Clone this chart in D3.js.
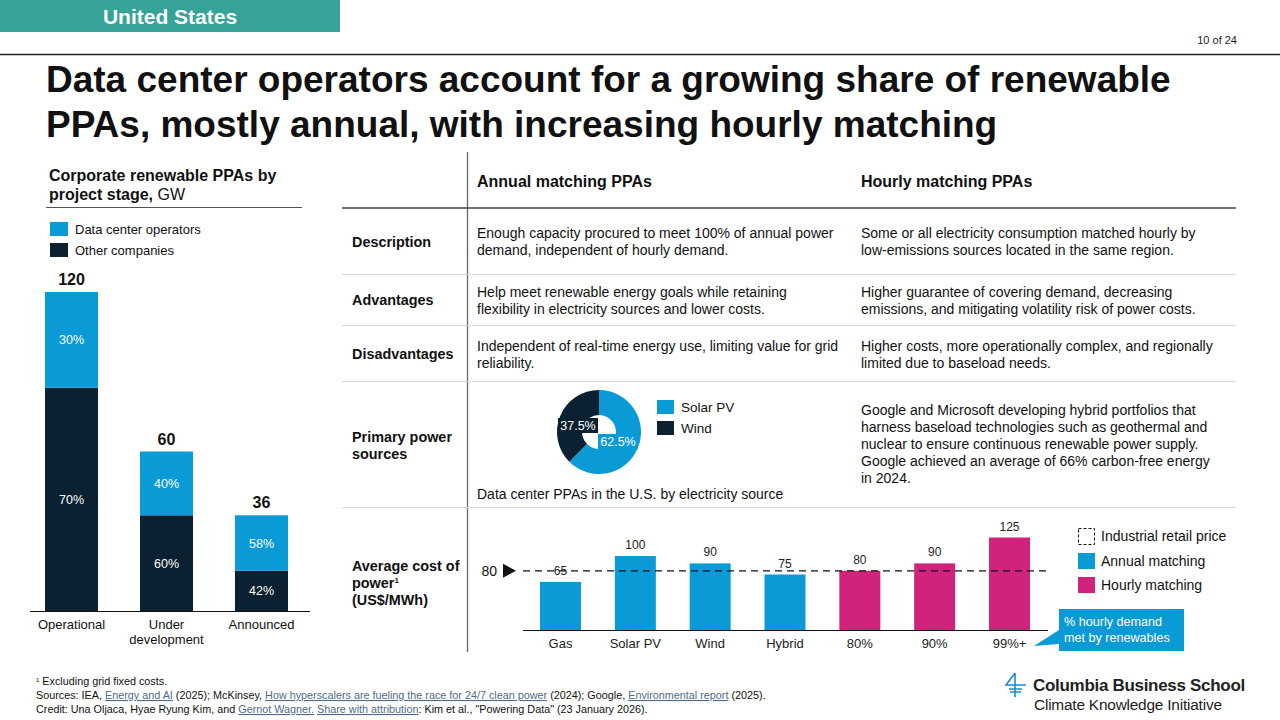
<!DOCTYPE html>
<html>
<head>
<meta charset="UTF-8">
<title>Data center PPAs</title>
<script src="https://d3js.org/d3.v7.min.js"></script>
<style>
  body { margin: 0; background: #fff; }
  svg { display: block; font-family: "Liberation Sans", Arial, sans-serif; }
  .foot { font-family: "Liberation Sans Narrow", "Arial Narrow", "Liberation Sans", sans-serif; font-size: 10.8px; fill: #111; }
  .link { fill: #4d6b8a; text-decoration: underline; }
</style>
</head>
<body>
<svg width="1280" height="720"></svg>
<script>
// ---- data ----
var stages = ["Operational", "Under development", "Announced"];
var stageTotals = [120, 60, 36];
var dataCenterShare = [30, 40, 58];
var otherShare = [70, 60, 42];

var sourceNames = ["Solar PV", "Wind"];
var sourceShares = [62.5, 37.5];

var costCats = ["Gas", "Solar PV", "Wind", "Hybrid", "80%", "90%", "99%+"];
var costValues = [65, 100, 90, 75, 80, 90, 125];
var costType = ["annual", "annual", "annual", "annual", "hourly", "hourly", "hourly"];
var retailPrice = 80;

var BLUE = "#0a9ad6", NAVY = "#0b2030", PINK = "#cf237c", TEAL = "#35a398";

var svg = d3.select("svg");

// ---- header ----
svg.append("rect").attr("x", 0).attr("y", 0).attr("width", 340).attr("height", 32).attr("fill", TEAL);
svg.append("text").attr("x", 170).attr("y", 24).attr("text-anchor", "middle")
  .attr("font-size", 21).attr("font-weight", "bold").attr("fill", "#fff").text("United States");
svg.append("text").attr("x", 1237).attr("y", 44).attr("text-anchor", "end")
  .attr("font-size", 11).attr("fill", "#222").text("10 of 24");
svg.append("line").attr("x1", 0).attr("x2", 1280).attr("y1", 54.5).attr("y2", 54.5)
  .attr("stroke", "#222").attr("stroke-width", 1.3);

var title = svg.append("text").attr("x", 46).attr("font-size", 37).attr("font-weight", "bold").attr("fill", "#111");
title.append("tspan").attr("x", 46).attr("y", 92).text("Data center operators account for a growing share of renewable");
title.append("tspan").attr("x", 46).attr("y", 137).text("PPAs, mostly annual, with increasing hourly matching");

// ---- left stacked bar chart ----
var lt = svg.append("text").attr("font-size", 16).attr("font-weight", "bold").attr("fill", "#111");
lt.append("tspan").attr("x", 49).attr("y", 181).text("Corporate renewable PPAs by");
lt.append("tspan").attr("x", 49).attr("y", 200).text("project stage,");
lt.append("tspan").attr("font-weight", "normal").text(" GW");
svg.append("line").attr("x1", 46).attr("x2", 302).attr("y1", 207.5).attr("y2", 207.5).attr("stroke", "#555").attr("stroke-width", 1);

[["Data center operators", BLUE], ["Other companies", NAVY]].forEach(function(d, i) {
  svg.append("rect").attr("x", 50).attr("y", 222 + i * 21).attr("width", 18).attr("height", 14).attr("fill", d[1]);
  svg.append("text").attr("x", 75).attr("y", 234 + i * 21).attr("font-size", 13).attr("fill", "#111").text(d[0]);
});

var xs = d3.scalePoint().domain(stages).range([71.5, 261.5]);
var ys = d3.scaleLinear().domain([0, 120]).range([611, 292]);
var bw = 53;

var stageData = stages.map(function(s, i) {
  return { name: s, total: stageTotals[i], dc: dataCenterShare[i], other: otherShare[i] };
});
var sg = svg.append("g").selectAll("g").data(stageData).enter().append("g");
sg.append("rect").attr("x", function(d) { return xs(d.name) - bw / 2; })
  .attr("y", function(d) { return ys(d.total * d.other / 100); })
  .attr("width", bw).attr("height", function(d) { return ys(0) - ys(d.total * d.other / 100); })
  .attr("fill", NAVY);
sg.append("rect").attr("x", function(d) { return xs(d.name) - bw / 2; })
  .attr("y", function(d) { return ys(d.total); })
  .attr("width", bw).attr("height", function(d) { return ys(d.total * d.other / 100) - ys(d.total); })
  .attr("fill", BLUE);
sg.append("text").attr("x", function(d) { return xs(d.name); })
  .attr("y", function(d) { return (ys(0) + ys(d.total * d.other / 100)) / 2 + 4.5; })
  .attr("text-anchor", "middle").attr("font-size", 12.5).attr("fill", "#fff")
  .text(function(d) { return d.other + "%"; });
sg.append("text").attr("x", function(d) { return xs(d.name); })
  .attr("y", function(d) { return (ys(d.total) + ys(d.total * d.other / 100)) / 2 + 4.5; })
  .attr("text-anchor", "middle").attr("font-size", 12.5).attr("fill", "#fff")
  .text(function(d) { return d.dc + "%"; });
sg.append("text").attr("x", function(d) { return xs(d.name); })
  .attr("y", function(d) { return ys(d.total) - 7; })
  .attr("text-anchor", "middle").attr("font-size", 16).attr("font-weight", "bold").attr("fill", "#111")
  .text(function(d) { return d.total; });
svg.append("line").attr("x1", 30).attr("x2", 310).attr("y1", 611.5).attr("y2", 611.5).attr("stroke", "#111").attr("stroke-width", 1.2);
sg.append("text").attr("text-anchor", "middle").attr("font-size", 13).attr("fill", "#111")
  .each(function(d) {
    var words = d.name === "Under development" ? ["Under", "development"] : [d.name];
    var t = d3.select(this);
    words.forEach(function(w, j) {
      t.append("tspan").attr("x", xs(d.name)).attr("y", 629 + j * 15).text(w);
    });
  });

// ---- table ----
svg.append("line").attr("x1", 467.5).attr("x2", 467.5).attr("y1", 152).attr("y2", 652).attr("stroke", "#666").attr("stroke-width", 1.3);
svg.append("text").attr("x", 477).attr("y", 187).attr("font-size", 16).attr("font-weight", "bold").attr("fill", "#111").text("Annual matching PPAs");
svg.append("text").attr("x", 861).attr("y", 187).attr("font-size", 16).attr("font-weight", "bold").attr("fill", "#111").text("Hourly matching PPAs");
svg.append("line").attr("x1", 342).attr("x2", 1236).attr("y1", 208).attr("y2", 208).attr("stroke", "#444").attr("stroke-width", 1.3);
[274, 325, 381, 507].forEach(function(y) {
  svg.append("line").attr("x1", 342).attr("x2", 1236).attr("y1", y + 0.5).attr("y2", y + 0.5).attr("stroke", "#d8d8d8").attr("stroke-width", 1);
});

function lines(x, y0, arr, size, bold) {
  var t = svg.append("text").attr("font-size", size).attr("fill", "#111");
  if (bold) t.attr("font-weight", "bold");
  arr.forEach(function(s, i) { t.append("tspan").attr("x", x).attr("y", y0 + i * 17).text(s); });
  return t;
}
var RL = 14.4, BT = 14;
lines(352, 247, ["Description"], RL, true);
lines(352, 305, ["Advantages"], RL, true);
lines(352, 359, ["Disadvantages"], RL, true);
lines(352, 442, ["Primary power", "sources"], RL, true);
lines(352, 571, ["Average cost of"], RL, true);
var pw = svg.append("text").attr("x", 352).attr("y", 588).attr("font-size", RL).attr("font-weight", "bold").attr("fill", "#111");
pw.append("tspan").text("power");
pw.append("tspan").attr("font-size", 8).attr("dy", -5).text("1");
lines(352, 605, ["(US$/MWh)"], RL, true);

lines(477, 238, ["Enough capacity procured to meet 100% of annual power", "demand, independent of hourly demand."], BT);
lines(861, 238, ["Some or all electricity consumption matched hourly by", "low-emissions sources located in the same region."], BT);
lines(477, 297, ["Help meet renewable energy goals while retaining", "flexibility in electricity sources and lower costs."], BT);
lines(861, 297, ["Higher guarantee of covering demand, decreasing", "emissions, and mitigating volatility risk of power costs."], BT);
lines(477, 351, ["Independent of real-time energy use, limiting value for grid", "reliability."], BT);
lines(861, 351, ["Higher costs, more operationally complex, and regionally", "limited due to baseload needs."], BT);
lines(861, 415, ["Google and Microsoft developing hybrid portfolios that",
  "harness baseload technologies such as geothermal and",
  "nuclear to ensure continuous renewable power supply.",
  "Google achieved an average of 66% carbon-free energy",
  "in 2024."], BT);

// ---- donut ----
var pie = d3.pie().sort(null).value(function(d) { return d; });
var arc = d3.arc().innerRadius(17).outerRadius(42);
var dg = svg.append("g").attr("transform", "translate(599,432)");
dg.selectAll("path").data(pie(sourceShares)).enter().append("path")
  .attr("d", arc).attr("fill", function(d, i) { return i === 0 ? BLUE : NAVY; });
// labels with background boxes
var lbl = [{ v: sourceShares[1], c: NAVY, x: -41, y: -14 }, { v: sourceShares[0], c: BLUE, x: -1, y: 2 }];
lbl.forEach(function(d) {
  dg.append("rect").attr("x", d.x).attr("y", d.y).attr("width", 40).attr("height", 15).attr("fill", d.c);
  dg.append("text").attr("x", d.x + 20).attr("y", d.y + 12).attr("text-anchor", "middle")
    .attr("font-size", 12.5).attr("fill", "#fff").text(d.v + "%");
});
sourceNames.forEach(function(n, i) {
  svg.append("rect").attr("x", 657).attr("y", 400 + i * 21).attr("width", 17).attr("height", 14).attr("fill", i === 0 ? BLUE : NAVY);
  svg.append("text").attr("x", 681).attr("y", 412 + i * 21).attr("font-size", 13.5).attr("fill", "#111").text(n);
});
lines(477, 499, ["Data center PPAs in the U.S. by electricity source"], BT);

// ---- cost bar chart ----
var cx = d3.scalePoint().domain(costCats).range([560.5, 1009.5]);
var cy = d3.scaleLinear().domain([0, 125]).range([630, 537.5]);
var cw = 41;
var costData = costCats.map(function(c, i) { return { cat: c, v: costValues[i], t: costType[i] }; });
var cg = svg.append("g");
cg.selectAll("rect").data(costData).enter().append("rect")
  .attr("x", function(d) { return cx(d.cat) - cw / 2; }).attr("y", function(d) { return cy(d.v); })
  .attr("width", cw).attr("height", function(d) { return cy(0) - cy(d.v); })
  .attr("fill", function(d) { return d.t === "annual" ? BLUE : PINK; });
cg.append("line").attr("x1", 523).attr("x2", 1048).attr("y1", cy(retailPrice)).attr("y2", cy(retailPrice))
  .attr("stroke", "#111").attr("stroke-width", 1.2).attr("stroke-dasharray", "7,5");
cg.selectAll("text.v").data(costData).enter().append("text").attr("class", "v")
  .attr("x", function(d) { return cx(d.cat); }).attr("y", function(d) { return cy(d.v) - 7; })
  .attr("text-anchor", "middle").attr("font-size", 12).attr("fill", "#222").text(function(d) { return d.v; });
cg.append("line").attr("x1", 523).attr("x2", 1048).attr("y1", 630.5).attr("y2", 630.5).attr("stroke", "#111").attr("stroke-width", 1.2);
cg.selectAll("text.c").data(costData).enter().append("text").attr("class", "c")
  .attr("x", function(d) { return cx(d.cat); }).attr("y", 648)
  .attr("text-anchor", "middle").attr("font-size", 13).attr("fill", "#222").text(function(d) { return d.cat; });
svg.append("text").attr("x", 497).attr("y", cy(retailPrice) + 5).attr("text-anchor", "end")
  .attr("font-size", 14).attr("fill", "#111").text(retailPrice);
svg.append("path").attr("d", "M503," + (cy(retailPrice) - 7) + "L516," + cy(retailPrice) + "L503," + (cy(retailPrice) + 7) + "Z").attr("fill", "#111");

// legend
svg.append("rect").attr("x", 1078.5).attr("y", 528.5).attr("width", 16).attr("height", 16).attr("fill", "none")
  .attr("stroke", "#111").attr("stroke-dasharray", "3,2");
svg.append("text").attr("x", 1101).attr("y", 541).attr("font-size", 14).attr("fill", "#111").text("Industrial retail price");
svg.append("rect").attr("x", 1078).attr("y", 553).attr("width", 17).attr("height", 16).attr("fill", BLUE);
svg.append("text").attr("x", 1101).attr("y", 566).attr("font-size", 14).attr("fill", "#111").text("Annual matching");
svg.append("rect").attr("x", 1078).attr("y", 577).attr("width", 17).attr("height", 16).attr("fill", PINK);
svg.append("text").attr("x", 1101).attr("y", 590).attr("font-size", 14).attr("fill", "#111").text("Hourly matching");

// callout
svg.append("path").attr("d", "M1059,609H1184V651H1059V644L1034,646L1059,630Z").attr("fill", BLUE);
lines(1064, 626, ["% hourly demand", "met by renewables"], 12.6, false).attr("fill", "#fff")
  .selectAll("tspan").attr("y", function(d, i) { return 626 + i * 16; });

// ---- footnotes ----
var f1 = svg.append("text").attr("class", "foot").attr("x", 36).attr("y", 685);
f1.append("tspan").attr("font-size", 6).attr("dy", -3).text("1");
f1.append("tspan").attr("dy", 3).text(" Excluding grid fixed costs.");
var f2 = svg.append("text").attr("class", "foot").attr("x", 36).attr("y", 699);
f2.append("tspan").text("Sources: IEA, ");
f2.append("tspan").attr("class", "link").text("Energy and AI");
f2.append("tspan").text(" (2025); McKinsey, ");
f2.append("tspan").attr("class", "link").text("How hyperscalers are fueling the race for 24/7 clean power");
f2.append("tspan").text(" (2024); Google, ");
f2.append("tspan").attr("class", "link").text("Environmental report");
f2.append("tspan").text(" (2025).");
var f3 = svg.append("text").attr("class", "foot").attr("x", 36).attr("y", 713);
f3.append("tspan").text("Credit: Una Oljaca, Hyae Ryung Kim, and ");
f3.append("tspan").attr("class", "link").text("Gernot Wagner.");
f3.append("tspan").text(" ");
f3.append("tspan").attr("class", "link").text("Share with attribution");
f3.append("tspan").text(": Kim et al., \"Powering Data\" (23 January 2026).");

// ---- logo ----
var lg = svg.append("g").attr("stroke", "#1a8fd0").attr("stroke-width", 1.6).attr("fill", "none");
lg.append("path").attr("d", "M1015,673L1006,685H1026M1015,673V697M1009,689H1022M1010,692H1021");
svg.append("text").attr("x", 1033).attr("y", 691).attr("font-size", 17).attr("font-weight", "bold").attr("fill", "#222")
  .attr("letter-spacing", -0.3).text("Columbia Business School");
svg.append("text").attr("x", 1034).attr("y", 710).attr("font-size", 15.4).attr("fill", "#222")
  .attr("letter-spacing", -0.2).text("Climate Knowledge Initiative");
</script>
</body>
</html>
